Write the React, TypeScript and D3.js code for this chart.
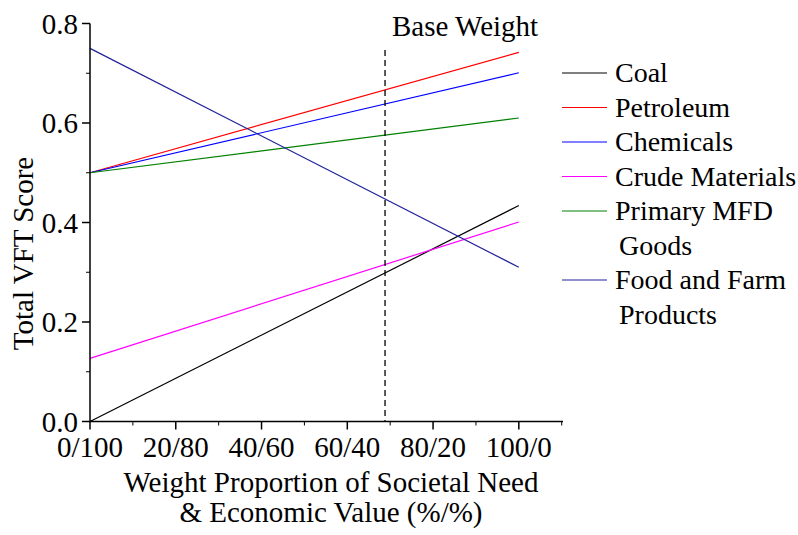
import React from "react";
import * as d3 from "d3";

const seriesNames = ["Coal", "Petroleum", "Chemicals", "Crude Materials", "Primary MFD Goods", "Food and Farm Products"];
const legendLines = [["Coal"], ["Petroleum"], ["Chemicals"], ["Crude Materials"], ["Primary MFD", "Goods"], ["Food and Farm", "Products"]];
const seriesColors = ["#000000", "#ff0000", "#0000ff", "#ff00ff", "#008000", "#22229a"];
const xPoints = [0, 100];
const startValues = [0.0, 0.5, 0.5, 0.127, 0.5, 0.75];
const endValues = [0.434, 0.742, 0.701, 0.401, 0.61, 0.31];
const xTickValues = [0, 20, 40, 60, 80, 100];
const xTickLabels = ["0/100", "20/80", "40/60", "60/40", "80/20", "100/0"];
const yTickValues = [0, 0.2, 0.4, 0.6, 0.8];
const baseWeight = 68.8;

export default function App() {
  const W = 798, H = 535;
  const x = d3.scaleLinear().domain([0, 110.3]).range([90, 563]);
  const y = d3.scaleLinear().domain([0, 0.8]).range([421.5, 23.5]);
  const line = d3.line<[number, number]>().x(d => x(d[0])).y(d => y(d[1]));
  const font = "'Liberation Serif', 'Times New Roman', serif";
  const xMinor = d3.range(10, 111, 20);
  const yMinor = [0.1, 0.3, 0.5, 0.7];
  const fs = 29;
  return (
    <svg width={W} height={H} style={{ position: "absolute", left: 0, top: 0, background: "#fff" }} fontFamily={font}>
      {seriesNames.map((n, i) => (
        <path key={n} d={line(xPoints.map((xv, j) => [xv, j === 0 ? startValues[i] : endValues[i]]) as [number, number][]) || ""}
          stroke={seriesColors[i]} strokeWidth={1.2} fill="none" />
      ))}
      {/* base weight */}
      <line x1={x(baseWeight)} x2={x(baseWeight)} y1={50} y2={y(0)} stroke="#000" strokeWidth={1.3} strokeDasharray="6,4" />
      <text x={392} y={36} fontSize={fs}>Base Weight</text>
      {/* axes */}
      <line x1={x(0)} x2={x(110.3)} y1={y(0)} y2={y(0)} stroke="#000" strokeWidth={1.5} />
      <line x1={x(0)} x2={x(0)} y1={y(0)} y2={y(0.8)} stroke="#000" strokeWidth={1.5} />
      {xTickValues.map((v, i) => (
        <g key={v}>
          <line x1={x(v)} x2={x(v)} y1={y(0)} y2={y(0) + 8} stroke="#000" strokeWidth={1.5} />
          <text x={x(v)} y={457} fontSize={fs} textAnchor="middle">{xTickLabels[i]}</text>
        </g>
      ))}
      {xMinor.map(v => <line key={v} x1={x(v)} x2={x(v)} y1={y(0)} y2={y(0) + 4} stroke="#000" strokeWidth={1} />)}
      {yTickValues.map(v => (
        <g key={v}>
          <line x1={x(0) - 8} x2={x(0)} y1={y(v)} y2={y(v)} stroke="#000" strokeWidth={1.5} />
          <text x={78} y={y(v)} dy="0.35em" fontSize={fs} textAnchor="end">{v.toFixed(1)}</text>
        </g>
      ))}
      {yMinor.map(v => <line key={v} x1={x(0) - 4} x2={x(0)} y1={y(v)} y2={y(v)} stroke="#000" strokeWidth={1} />)}
      <text transform={`translate(33,253.5) rotate(-90)`} textAnchor="middle" fontSize={fs}>Total VFT Score</text>
      <text x={331} y={492} textAnchor="middle" fontSize={fs}>Weight Proportion of Societal Need</text>
      <text x={331} y={522} textAnchor="middle" fontSize={fs}>&amp; Economic Value (%/%)</text>
      {/* legend */}
      {(() => {
        let row = 0;
        return legendLines.map((lines, i) => {
          const y0 = 73 + row * 34.5;
          row += lines.length;
          return (
            <g key={i}>
              <line x1={562} x2={607} y1={y0} y2={y0} stroke={seriesColors[i]} strokeWidth={1.2} />
              {lines.map((t, k) => (
                <text key={k} x={k === 0 ? 615 : 619} y={y0 + k * 34.5} dy="0.33em" fontSize={28}>{t}</text>
              ))}
            </g>
          );
        });
      })()}
    </svg>
  );
}
